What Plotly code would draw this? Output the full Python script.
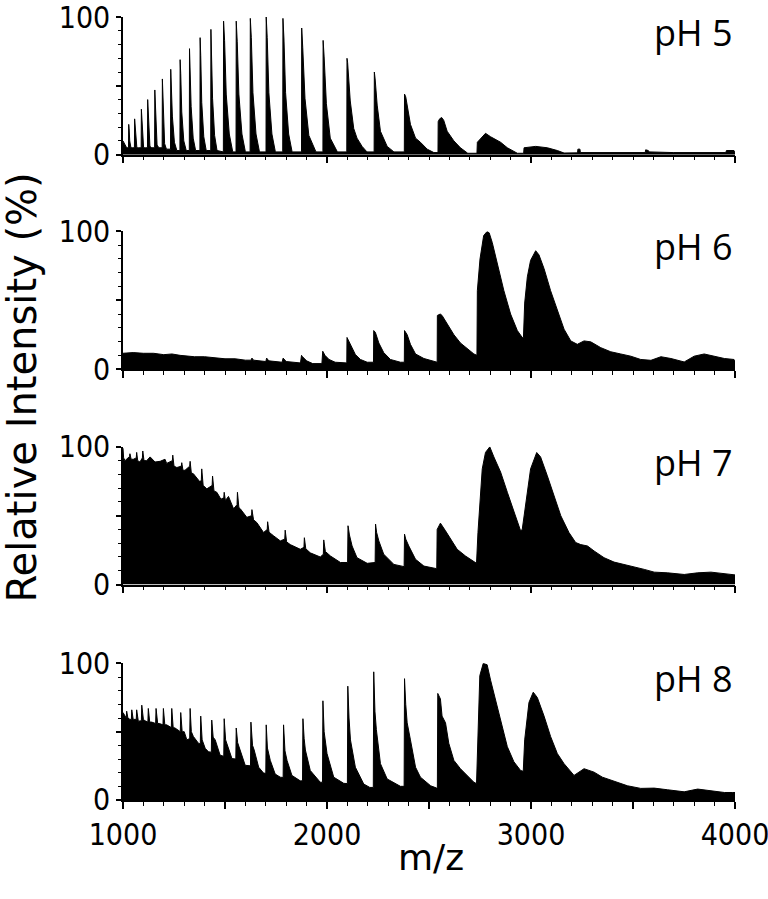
import plotly.graph_objects as go

# m/z and relative intensity (%) outlines
mz_ph5 = [1000, 1008, 1018,
          1027, 1028, 1030, 1033, 1039, 1048,
          1056, 1057, 1059, 1062, 1068, 1077,
          1089, 1090, 1092, 1095, 1101, 1110,
          1120, 1121, 1123, 1126, 1132, 1141,
          1155, 1156, 1158, 1161, 1167, 1176,
          1192, 1193, 1195, 1198, 1204, 1213,
          1233, 1234, 1237, 1242, 1252, 1264,
          1279, 1280, 1283, 1288, 1298, 1310,
          1325, 1326, 1329, 1334, 1344, 1356,
          1377, 1378, 1381, 1386, 1396, 1408,
          1430, 1431, 1434, 1439, 1449, 1461,
          1492, 1493, 1498, 1506, 1521, 1538,
          1554, 1555, 1560, 1568, 1583, 1600,
          1623, 1624, 1629, 1637, 1652, 1669,
          1701, 1702, 1707, 1715, 1730, 1747,
          1783, 1784, 1789, 1797, 1812, 1829,
          1875, 1876, 1881, 1892, 1911, 1946,
          1980, 1981, 1986, 1997, 2016, 2051,
          2097, 2098, 2101, 2114, 2131, 2147, 2172, 2196,
          2231, 2232, 2236, 2246, 2262, 2295, 2328,
          2379, 2380, 2386, 2393, 2409, 2434, 2458, 2491, 2524,
          2544, 2545, 2552, 2562, 2572, 2589, 2622, 2654, 2690,
          2735, 2737, 2760, 2777, 2802, 2851, 2884, 2933,
          2964, 2966, 3023, 3080, 3129, 3162,
          3228, 3230, 3240, 3242, 3560, 3562, 3575, 3580, 3700, 3955, 3958, 3995, 4000]
int_ph5 = [10, 8, 5,
           5, 22, 19, 10, 5, 5,
           5, 26, 22, 12, 5, 5,
           5, 33, 28, 15, 5, 5,
           5, 40, 34, 18, 6, 5,
           5, 47, 40, 21, 7, 5,
           5, 55, 47, 25, 8, 4,
           4, 62, 53, 28, 9, 3,
           3, 69, 59, 31, 10, 3,
           3, 77, 65, 35, 12, 3,
           3, 85, 72, 38, 13, 3,
           3, 91, 77, 41, 14, 3,
           2, 97, 83, 44, 15, 2,
           2, 97, 82, 44, 15, 2,
           2, 99, 85, 45, 15, 2,
           2, 100, 85, 45, 15, 2,
           2, 99, 84, 45, 15, 2,
           2, 92, 78, 41, 14, 2,
           2, 83, 71, 37, 12, 2,
           2, 70, 67, 39, 19, 12, 6, 2,
           2, 60, 55, 36, 17, 6, 2,
           2, 44, 42, 36, 22, 12, 9, 4, 1.5,
           1.5, 24, 26, 27, 25, 17, 10, 5, 1,
           1, 9, 13, 15.5, 13, 9, 5, 1,
           1, 5, 6, 5, 3, 1.2,
           1.3, 4, 4, 1.5, 1.5, 3.5, 3, 2, 1.5, 1.5, 3, 3, 1]

mz_ph6 = [1000, 1050, 1100, 1150, 1200, 1240, 1280, 1320, 1350, 1400,
          1450, 1500, 1550, 1600, 1628, 1632, 1640, 1700, 1704, 1715,
          1780, 1785, 1800, 1870, 1875, 1880, 1900, 1930, 1975, 1979,
          1990, 2010, 2040, 2090, 2097, 2098, 2106, 2123, 2139, 2164,
          2197, 2228, 2229, 2237, 2254, 2278, 2311, 2360, 2379, 2380,
          2393, 2409, 2434, 2475, 2524, 2540, 2541, 2555, 2564, 2589,
          2622, 2654, 2687, 2720, 2735, 2737, 2750, 2768, 2785, 2795,
          2810, 2835, 2867, 2900, 2933, 2957, 2963, 2969, 2982, 2998,
          3023, 3039, 3064, 3096, 3129, 3162, 3195, 3227, 3260, 3293,
          3342, 3391, 3440, 3489, 3538, 3588, 3637, 3686, 3751, 3800,
          3849, 3899, 3948, 3995, 4000]
int_ph6 = [11.5, 12, 11.5, 11.5, 10.5, 11, 10, 9.5, 9, 9,
           8, 7.5, 7.5, 6.5, 6.5, 8, 6.5, 5.5, 8, 6,
           5, 8, 5.5, 4.5, 10, 9, 6, 4, 4, 13,
           10, 7, 5, 4.5, 4.5, 23, 20.5, 15.6, 10.6, 7,
           5, 5, 28, 26.7, 19, 12, 7, 5, 5, 28,
           25, 18, 11, 7.7, 5.7, 5, 39, 40, 39, 33,
           25, 19, 15, 11, 10, 57, 80, 97, 100, 99,
           92, 77, 57, 40, 28, 23, 23, 48, 67, 79,
           86, 83, 73, 57, 43, 29, 20.5, 18, 20.5, 19.8,
           15.6, 12.6, 11, 9.4, 7, 6.4, 9, 7.7, 5.2, 9.4,
           11, 9.4, 7.7, 7, 6]

mz_ph7 = [1000, 1003, 1010, 1032, 1034, 1040, 1051, 1065, 1067, 1072,
          1083, 1095, 1097, 1103, 1116, 1133, 1157, 1182, 1206, 1214,
          1242, 1244, 1250, 1264, 1286, 1288, 1294, 1304, 1327, 1329,
          1335, 1345, 1378, 1384, 1386, 1393, 1411, 1437, 1439, 1446,
          1460, 1480, 1494, 1496, 1502, 1517, 1542, 1559, 1561, 1568,
          1575, 1607, 1630, 1632, 1640, 1656, 1689, 1707, 1709, 1716,
          1738, 1771, 1793, 1795, 1802, 1820, 1869, 1887, 1889, 1896,
          1918, 1967, 1982, 1984, 1992, 2017, 2066, 2095, 2101, 2103,
          2110, 2123, 2147, 2197, 2221, 2236, 2238, 2243, 2254, 2278,
          2328, 2368, 2378, 2380, 2386, 2401, 2434, 2475, 2524, 2538,
          2540, 2556, 2581, 2605, 2638, 2679, 2720, 2733, 2740, 2749,
          2761, 2777, 2798, 2818, 2851, 2884, 2916, 2949, 2957, 2974,
          2998, 3028, 3047, 3080, 3113, 3146, 3186, 3219, 3244, 3277,
          3309, 3358, 3407, 3457, 3506, 3555, 3604, 3669, 3751, 3817,
          3882, 3931, 3989, 4000]
int_ph7 = [99, 92, 90, 93, 95, 91, 91, 92, 96, 90,
           89, 92, 97, 90, 90, 92.7, 89, 89.5, 91, 88,
           90, 94, 86, 85, 86, 88.5, 83, 83, 86, 89.5,
           81, 80.5, 74.4, 76, 84, 72, 69.5, 72, 78.8, 68,
           67, 62, 63, 67, 61, 64, 55, 58, 67, 56,
           55, 48.8, 50, 54.4, 47, 45, 37.8, 40, 45.6, 38,
           35.4, 31.7, 33, 39.5, 31, 29, 25.6, 27, 34, 26,
           23, 20, 22, 32.4, 24, 20.7, 16, 16, 16, 42.7,
           36, 28, 19.5, 15.4, 15.8, 16, 43.9, 38, 31.7, 22,
           14.6, 13, 13, 36.6, 33, 28, 18.3, 13.4, 11.7, 11.5,
           40, 44.6, 39, 32.9, 25.6, 20.7, 16.3, 15.4, 37.8, 59.8,
           84, 96, 100, 92.7, 81.7, 67, 52.4, 39, 40, 59.8,
           84, 95.9, 92.7, 79, 64.6, 50, 37.8, 30.5, 29, 28,
           24.4, 19.5, 16.3, 14.6, 12.7, 11, 9, 8.5, 7.3, 8.5,
           9, 8, 7.3, 7]

mz_ph8 = [1000, 1010,
          1016, 1018, 1024, 1034,
          1041, 1043, 1050, 1059,
          1065, 1067, 1075,
          1090, 1092, 1100, 1108,
          1122, 1124, 1131, 1141,
          1160, 1162, 1170, 1178,
          1196, 1198, 1205, 1214,
          1237, 1239, 1246, 1255,
          1281, 1283, 1290, 1300, 1313,
          1327, 1329, 1335, 1345, 1370,
          1379, 1381, 1388, 1403, 1419,
          1433, 1435, 1442, 1452, 1476,
          1494, 1496, 1503, 1509, 1534,
          1553, 1555, 1562, 1575, 1599,
          1625, 1627, 1635, 1643, 1665, 1689,
          1700, 1702, 1708, 1722, 1746, 1771,
          1785, 1787, 1794, 1804, 1828, 1869,
          1880, 1882, 1888, 1894, 1918, 1967,
          1978, 1980, 1986, 2000, 2033, 2082,
          2100, 2102, 2108, 2115, 2139, 2180, 2210,
          2227, 2229, 2235, 2242, 2262, 2295, 2360,
          2378, 2380, 2386, 2393, 2409, 2434, 2458, 2508, 2538,
          2541, 2543, 2556, 2564, 2581, 2597, 2622, 2654, 2687, 2720, 2733,
          2740, 2749, 2766, 2785, 2802, 2826, 2851, 2884, 2916, 2949, 2962,
          2969, 2990, 3011, 3031, 3064, 3096, 3129, 3162, 3211, 3260,
          3309, 3350, 3399, 3473, 3538, 3604, 3669, 3751, 3817, 3882,
          3948, 3989, 4000]
int_ph8 = [64, 61.4,
           60, 65, 60, 59,
           59, 66, 59, 59,
           59, 66, 57.7,
           58, 69.4, 59, 58,
           57, 67, 57, 57,
           56, 67, 56, 56,
           55, 67, 55, 55,
           53, 67, 53, 52.7,
           50, 64, 50, 50, 44,
           45, 67, 50, 46.5, 41.5,
           41, 61.4, 44, 37.8, 35.3,
           35, 58.5, 46, 44, 32.8,
           32, 59.5, 44, 41.5, 30.3,
           30, 52.7, 42, 36.6, 25.4,
           25, 57, 40, 36.6, 24, 19.7,
           19.5, 55, 38, 29, 19, 16.7,
           16.5, 55, 36, 29, 18, 14,
           14, 59.5, 45, 36.6, 21.6, 13,
           13, 72.6, 50, 34, 16.7, 12.2,
           12, 83.3, 60, 44, 24, 11.7, 9.2,
           9.2, 93.8, 65, 51.5, 26.6, 15.4, 10,
           10, 88.8, 70, 56.5, 44, 24, 16.7, 10.4, 8.7,
           9, 78, 74, 61.4, 56.5, 41.5, 29, 22.9, 18, 13, 12,
           56.5, 91, 100, 99, 87.6, 74, 59, 39, 28, 21.6, 21,
           44, 71.4, 78.9, 75, 61.4, 46.5, 34, 26.6, 18, 22.9,
           20.4, 16.7, 14.2, 10.4, 8.5, 8.7, 7.5, 6, 8, 6.7,
           5.5, 5.5, 5.5]

panel_labels = ['pH 5', 'pH 6', 'pH 7', 'pH 8']
spectra = [(mz_ph5, int_ph5), (mz_ph6, int_ph6), (mz_ph7, int_ph7), (mz_ph8, int_ph8)]

x_ticks = [1000, 1500, 2000, 2500, 3000, 3500, 4000]
x_ticktext = ['1000', '', '2000', '', '3000', '', '4000']
y_ticks = [0, 50, 100]
y_ticktext = ['0', '', '100']

# panel domains (top panel first)
domains = [[0.8242, 1.0], [0.5503, 0.7261], [0.2752, 0.4510], [0.0, 0.1745]]

tick_font = dict(family='DejaVu Sans Condensed, Liberation Sans Narrow, Liberation Sans, Arial',
                 size=30, color='black')

fig = go.Figure()
layout = {}
for i, ((mz, inten), label) in enumerate(zip(spectra, panel_labels)):
    n = '' if i == 0 else str(i + 1)
    fig.add_trace(go.Scatter(x=mz, y=inten, mode='lines', fill='tozeroy',
                             fillcolor='black', line=dict(color='black', width=1),
                             xaxis='x' + n, yaxis='y' + n, showlegend=False,
                             hoverinfo='skip'))
    layout['xaxis' + n] = dict(
        domain=[0, 1], range=[1000, 4000], anchor='y' + n, automargin=False,
        showline=True, linecolor='black', linewidth=1.5, mirror=False,
        ticks='outside', tickvals=x_ticks, ticktext=x_ticktext,
        ticklen=7, tickwidth=1.5, tickcolor='black', ticklabeloverflow='allow',
        minor=dict(dtick=100, tick0=1000, ticks='outside', ticklen=4, tickwidth=1, tickcolor='black'),
        showticklabels=(i == 3), tickfont=tick_font,
        showgrid=False, zeroline=False)
    layout['yaxis' + n] = dict(
        domain=domains[i], range=[0, 100], anchor='x' + n, automargin=False,
        showline=True, linecolor='black', linewidth=1.5,
        ticks='outside', tickvals=y_ticks, ticktext=y_ticktext,
        ticklen=5, tickwidth=1.5, tickcolor='black', ticklabeloverflow='allow',
        minor=dict(dtick=10, tick0=0, ticks='outside', ticklen=3, tickwidth=1, tickcolor='black'),
        tickfont=tick_font, showgrid=False, zeroline=False)
    fig.add_annotation(text=label, xref='x' + n, yref='y' + n, x=4000, y=89,
                       xanchor='right', yanchor='middle', showarrow=False,
                       font=dict(family='Open Sans, Noto Sans, sans-serif', size=36, color='black'))

fig.add_annotation(text='Relative Intensity (%)', xref='paper', yref='paper',
                   x=-0.165, y=0.527, textangle=-90, showarrow=False,
                   xanchor='center', yanchor='middle',
                   font=dict(family='DejaVu Sans, Verdana, sans-serif', size=40, color='black'))
fig.add_annotation(text='m/z', xref='paper', yref='paper',
                   x=0.503, y=-0.074, showarrow=False,
                   xanchor='center', yanchor='middle',
                   font=dict(family='DejaVu Sans, Verdana, sans-serif', size=36, color='black'))

fig.update_layout(**layout)
fig.update_layout(width=768, height=899, plot_bgcolor='white', paper_bgcolor='white',
                  margin=dict(l=123, r=33, t=17, b=99))

# drop the default page margin so the figure sits at the window corner
fig.write_html("out.html", config={'displayModeBar': False},
               post_script="document.body.style.margin='0';")
